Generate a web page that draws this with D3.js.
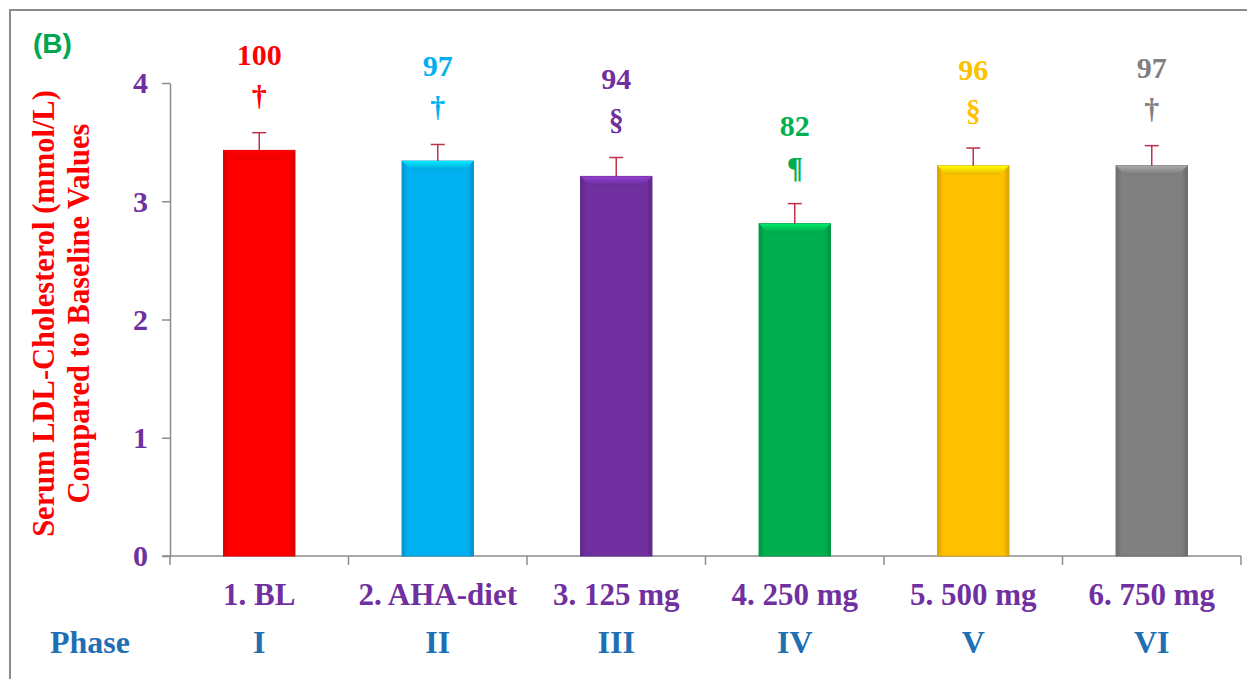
<!DOCTYPE html>
<html>
<head>
<meta charset="utf-8">
<script src="https://d3js.org/d3.v7.min.js"></script>
<style>
  body { margin: 0; background: #fff; }
  svg { display: block; }
</style>
</head>
<body>
<div id="chart"></div>
<script>
// data
const categories = ["1. BL", "2. AHA-diet", "3. 125 mg", "4. 250 mg", "5. 500 mg", "6. 750 mg"];
const phases = ["I", "II", "III", "IV", "V", "VI"];
const means = [3.43, 3.34, 3.21, 2.81, 3.30, 3.30];
const errors = [0.15, 0.14, 0.16, 0.17, 0.15, 0.17];
const percents = ["100", "97", "94", "82", "96", "97"];
const marks = ["†", "†", "§", "¶", "§", "†"];
const colors = ["#ff0000", "#00b0f0", "#7030a0", "#00b050", "#ffc000", "#808080"];
const yTicks = [0, 1, 2, 3, 4];

const W = 1247, H = 679;
const serif = "'Liberation Serif', 'Times New Roman', serif";
const purple = "#7030a0";
const phaseBlue = "#1f6fb5";

const svg = d3.select("#chart").append("svg")
    .attr("width", W)
    .attr("height", H);

// outer frame
svg.append("rect")
    .attr("x", 10).attr("y", 10)
    .attr("width", 1260).attr("height", 700)
    .attr("fill", "none")
    .attr("stroke", "#8c8c8c")
    .attr("stroke-width", 2);

const x = d3.scaleBand()
    .domain(categories)
    .range([170, 1241])
    .paddingInner(0.6)
    .paddingOuter(0.3);

const y = d3.scaleLinear().domain([0, 4]).range([556, 83]);

const defs = svg.append("defs");
colors.forEach((c, i) => {
    const g = defs.append("linearGradient")
        .attr("id", "side" + i)
        .attr("x1", "0").attr("x2", "1").attr("y1", "0").attr("y2", "0");
    const dark = d3.color(c).darker(0.5).formatHex();
    g.append("stop").attr("offset", "0").attr("stop-color", dark);
    g.append("stop").attr("offset", "0.08").attr("stop-color", c);
    g.append("stop").attr("offset", "0.92").attr("stop-color", c);
    g.append("stop").attr("offset", "1").attr("stop-color", dark);
    const t = defs.append("linearGradient")
        .attr("id", "top" + i)
        .attr("x1", "0").attr("x2", "0").attr("y1", "0").attr("y2", "1");
    t.append("stop").attr("offset", "0").attr("stop-color", d3.color(c).brighter(0.8).formatHex());
    t.append("stop").attr("offset", "1").attr("stop-color", d3.color(c).darker(0.2).formatHex());
});

// y axis
const yAxis = svg.append("g")
    .attr("transform", "translate(170,0)")
    .call(d3.axisLeft(y).tickValues(yTicks).tickFormat(d3.format("d"))
        .tickSize(8).tickSizeOuter(0).tickPadding(14));
yAxis.select(".domain").attr("stroke", "#8c8c8c").attr("stroke-width", 1.5);
yAxis.selectAll(".tick line").attr("stroke", "#8c8c8c").attr("stroke-width", 1.5);
yAxis.selectAll(".tick text")
    .attr("fill", purple)
    .style("font-family", serif)
    .style("font-weight", "bold")
    .style("font-size", "30px")
    .attr("dy", "0.33em");

// x axis line + boundary ticks
svg.append("line")
    .attr("x1", 162).attr("x2", 1241)
    .attr("y1", y(0)).attr("y2", y(0))
    .attr("stroke", "#8c8c8c").attr("stroke-width", 1.5);

const bounds = categories.map(d => x(d) - x.step() * 0.3).concat([x(categories[5]) + x.bandwidth() + x.step() * 0.3]);
svg.selectAll(".xtick").data(bounds).join("line")
    .attr("class", "xtick")
    .attr("x1", d => d).attr("x2", d => d)
    .attr("y1", y(0)).attr("y2", y(0) + 9)
    .attr("stroke", "#8c8c8c").attr("stroke-width", 1.5);

// category labels
svg.selectAll(".cat").data(categories).join("text")
    .attr("class", "cat")
    .attr("x", d => x(d) + x.bandwidth() / 2)
    .attr("y", 605)
    .attr("text-anchor", "middle")
    .attr("fill", purple)
    .style("font-family", serif)
    .style("font-weight", "bold")
    .style("font-size", "31px")
    .text(d => d);

// phase row
svg.append("text")
    .attr("x", 50).attr("y", 653)
    .attr("fill", phaseBlue)
    .style("font-family", serif)
    .style("font-weight", "bold")
    .style("font-size", "32px")
    .text("Phase");

svg.selectAll(".phase").data(phases).join("text")
    .attr("class", "phase")
    .attr("x", (d, i) => x(categories[i]) + x.bandwidth() / 2)
    .attr("y", 653)
    .attr("text-anchor", "middle")
    .attr("fill", phaseBlue)
    .style("font-family", serif)
    .style("font-weight", "bold")
    .style("font-size", "32px")
    .text(d => d);

// bars
const bars = svg.selectAll(".bar").data(means).join("g").attr("class", "bar");
bars.append("rect")
    .attr("x", (d, i) => x(categories[i]))
    .attr("y", d => y(d))
    .attr("width", x.bandwidth())
    .attr("height", d => y(0) - y(d))
    .attr("fill", (d, i) => `url(#side${i})`)
    .attr("stroke", (d, i) => d3.color(colors[i]).darker(0.4).formatHex())
    .attr("stroke-width", 1);
// top bevel
bars.append("path")
    .attr("d", (d, i) => {
        const x0 = x(categories[i]), x1 = x0 + x.bandwidth(), t = y(d), b = 9;
        return `M${x0},${t}L${x1},${t}L${x1 - b},${t + b}L${x0 + b},${t + b}Z`;
    })
    .attr("fill", (d, i) => `url(#top${i})`);

// error bars
const errG = svg.selectAll(".err").data(means).join("g").attr("class", "err")
    .attr("stroke", "#c0304a").attr("stroke-width", 1.5);
errG.append("line")
    .attr("x1", (d, i) => x(categories[i]) + x.bandwidth() / 2)
    .attr("x2", (d, i) => x(categories[i]) + x.bandwidth() / 2)
    .attr("y1", d => y(d))
    .attr("y2", (d, i) => y(d + errors[i]));
errG.append("line")
    .attr("x1", (d, i) => x(categories[i]) + x.bandwidth() / 2 - 7)
    .attr("x2", (d, i) => x(categories[i]) + x.bandwidth() / 2 + 7)
    .attr("y1", (d, i) => y(d + errors[i]))
    .attr("y2", (d, i) => y(d + errors[i]));

// percent labels and significance marks
svg.selectAll(".pct").data(percents).join("text")
    .attr("class", "pct")
    .attr("x", (d, i) => x(categories[i]) + x.bandwidth() / 2)
    .attr("y", (d, i) => y(means[i] + errors[i]) - 68)
    .attr("text-anchor", "middle")
    .attr("fill", (d, i) => colors[i])
    .style("font-family", serif)
    .style("font-weight", "bold")
    .style("font-size", "30px")
    .text(d => d);

svg.selectAll(".mark").data(marks).join("text")
    .attr("class", "mark")
    .attr("x", (d, i) => x(categories[i]) + x.bandwidth() / 2)
    .attr("y", (d, i) => y(means[i] + errors[i]) - 27)
    .attr("text-anchor", "middle")
    .attr("fill", (d, i) => colors[i])
    .style("font-family", serif)
    .style("font-weight", "bold")
    .style("font-size", "30px")
    .text(d => d);

// y axis title
const yTitle = svg.append("text")
    .attr("transform", `translate(0,${(y(0) + y(4)) / 2 - 6}) rotate(-90)`)
    .attr("text-anchor", "middle")
    .attr("fill", "#ff0000")
    .style("font-family", serif)
    .style("font-weight", "bold")
    .style("font-size", "30.5px");
yTitle.append("tspan").attr("x", 0).attr("y", 54).text("Serum LDL-Cholesterol (mmol/L)");
yTitle.append("tspan").attr("x", 0).attr("y", 89).text("Compared to Baseline Values");

// panel label
svg.append("text")
    .attr("x", 33).attr("y", 53)
    .attr("fill", "#00a651")
    .style("font-family", "'Liberation Sans', Arial, sans-serif")
    .style("font-weight", "bold")
    .style("font-size", "28px")
    .text("(B)");
</script>
</body>
</html>
